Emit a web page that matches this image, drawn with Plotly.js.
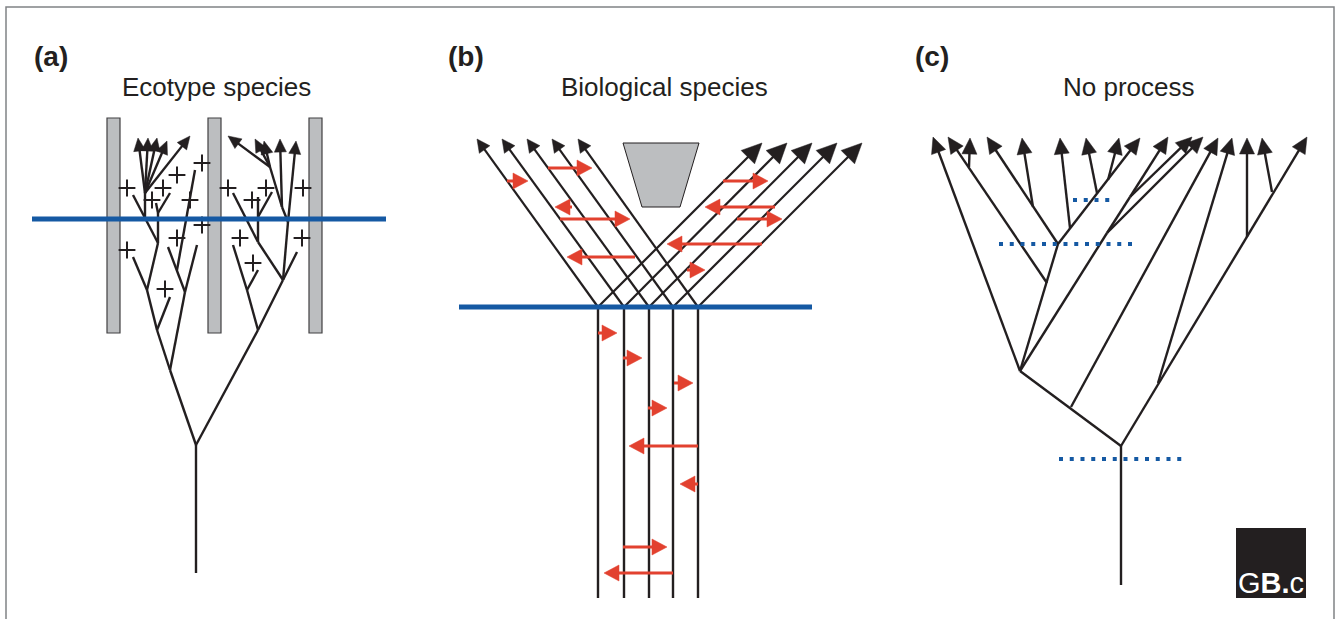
<!DOCTYPE html>
<html><head><meta charset="utf-8">
<script src="https://cdn.plot.ly/plotly-3.0.1.min.js"></script>
<style>html,body{margin:0;padding:0;background:#fff;}#chart{width:1336px;height:619px;}</style>
</head><body><div id="chart"></div>
<script>
// ---------------- data (diagram coordinates) ----------------
const panelLabels = ['(a)', '(b)', '(c)'];
const panelLabelX = [51, 466, 932];
const panelTitles = ['Ecotype species', 'Biological species', 'No process'];
const panelTitleX = [216, 664, 1129];

// panel (a): ecotype species
const barsA = [[107, 118, 120, 333], [208, 118, 221, 333], [309, 118, 322, 333]];
const blueA = [[32, 386, 219]];
const treeA_lines = [
  [196,573,196,445],[196,445,170,370],[196,445,258,330],
  [170,370,157,330],[157,330,147,290],[147,290,133,257],[147,290,158,243],[157,330,170,297],
  [170,370,185,292],[185,292,168,247],[185,292,197,245],[177,270,195,170],
  [158,243,145,218],[158,243,158,213],[158,213,156,203],[158,213,170,193],
  [145,218,133,195],[145,218,145,193],
  [258,330,247,290],[247,290,233,245],[247,290,258,270],[258,330,283,280],[283,280,297,252],
  [283,280,258,242],[258,242,233,193],[258,242,258,197],[258,217,272,192],
  [283,280,288,222],[288,222,282,207],[282,207,270,167]
];
const treeA_arrows = [
  [145,193,138,138],[145,193,148,138],[145,193,157,138],[145,193,167,141],[145,193,190,136],
  [270,167,228,136],[270,167,255,139],[270,167,264,141],[282,207,280,139],[288,222,296,141]
];
const plusA_x = [127,163,152,177,202,190,202,177,127,165,228,266,252,303,240,302,253];
const plusA_y = [188,188,200,175,163,200,225,238,250,289,188,188,200,188,238,238,263];

// panel (b): biological species
const blueB = [[459, 812, 307]];
const lineageBaseX = [598, 624, 649, 673, 698];
const lineageBaseY = 307;
const lineageBottomY = 598;
const leftTipX = [477, 502, 527, 552, 578];
const leftTipY = 139;
const rightTipX = [762, 787, 812, 837, 862];
const rightTipY = 143;
const barrierX = [623, 699, 680, 642];
const barrierY = [143, 143, 207, 207];
// gene-flow arrows: [from x, to x, y]
const geneFlowUpper = [[507,528,181],[548,592,168],[572,555,207],[560,630,219],[635,567,257],
                       [723,768,181],[775,705,207],[737,782,219],[762,667,244],[687,705,270]];
const geneFlowLower = [[598,617,333],[623,642,358],[674,693,383],[648,667,408],[698,629,446],
                       [698,680,484],[623,667,547],[673,604,573]];

// panel (c): no process
const treeC_lines = [
  [1121,585,1121,446],[1121,446,1020,371],[1020,371,1058,244],[1020,371,1107,233],[1107,233,1130,197]
];
const treeC_arrows = [
  [1020,371,933,137],[1047,283,948,137],[969,167,970,138],[1058,244,987,137],[1033,207,1022,138],
  [1070,228,1060,138],[1097,193,1086,138],[1108,180,1119,138],[1058,244,1140,138],
  [1130,197,1168,137],[1130,197,1192,137],[1107,233,1203,137],[1071,407,1218,138],
  [1158,383,1232,138],[1247,237,1247,138],[1272,192,1262,138],[1121,446,1307,137]
];
const dottedC = [[1073,1110,200],[999,1133,244],[1059,1183,459]];

const logoBox = [1236, 528, 1306, 598];
const logoText = 'G<b>B.</b>c';

// ---------------- styles ----------------
const INK = '#231f20', BLUE = '#1559a3', RED = '#e2412f', GREY = '#bcbec0';

// ---------------- builders ----------------
function segTrace(segs, color, width, dash) {
  const x = [], y = [];
  segs.forEach(s => { x.push(s[0], s[2], null); y.push(s[1], s[3], null); });
  return {type:'scatter', mode:'lines', x, y, hoverinfo:'skip',
          line:{color, width, dash: dash || 'solid'}};
}
function arrowTraces(arrows, color, width, L, W) {
  const shafts = [], hx = [], hy = [];
  arrows.forEach(a => {
    const dx = a[2]-a[0], dy = a[3]-a[1];
    const len = Math.hypot(dx, dy), ux = dx/len, uy = dy/len;
    const bx = a[2]-ux*L, by = a[3]-uy*L;
    shafts.push([a[0], a[1], a[2]-ux*L*0.6, a[3]-uy*L*0.6]);
    hx.push(a[2], bx - uy*W, bx + uy*W, a[2], null);
    hy.push(a[3], by + ux*W, by - ux*W, a[3], null);
  });
  return [segTrace(shafts, color, width),
          {type:'scatter', mode:'lines', x:hx, y:hy, fill:'toself', fillcolor:color,
           line:{color, width:0.5}, hoverinfo:'skip'}];
}

const traces = [];
// barrier (trapezoid)
traces.push({type:'scatter', mode:'lines', x: barrierX.concat([barrierX[0]]), y: barrierY.concat([barrierY[0]]),
  fill:'toself', fillcolor:GREY, line:{color:INK, width:1}, hoverinfo:'skip'});

// panel a tree
traces.push(segTrace(treeA_lines, INK, 2.4));
traces.push(...arrowTraces(treeA_arrows, INK, 2.4, 13, 6));
traces.push({type:'scatter', mode:'markers', x: plusA_x, y: plusA_y, hoverinfo:'skip',
  marker:{symbol:'cross-thin', size:12, color:INK, line:{color:INK, width:2}}});

// panel b lineages
const bVert = lineageBaseX.map(x => [x, lineageBaseY, x, lineageBottomY]);
traces.push(segTrace(bVert, INK, 2.4));
traces.push(...arrowTraces(lineageBaseX.map((x,i) => [x, lineageBaseY, leftTipX[i], leftTipY]), INK, 2.2, 13, 6.5));
traces.push(...arrowTraces(lineageBaseX.map((x,i) => [x, lineageBaseY, rightTipX[i], rightTipY]), INK, 2.2, 20, 9.5));
traces.push(...arrowTraces(geneFlowUpper.concat(geneFlowLower).map(g => [g[0], g[2], g[1], g[2]]), RED, 3, 15, 8));

// panel c tree
traces.push(segTrace(treeC_lines, INK, 2.4));
traces.push(...arrowTraces(treeC_arrows, INK, 2.4, 16, 7.5));

// blue lines
traces.push(segTrace(blueA.concat(blueB).map(b => [b[0], b[2], b[1], b[2]]), BLUE, 5));
traces.push(segTrace(dottedC.map(b => [b[0], b[2], b[1], b[2]]), BLUE, 4, '4px,6.75px'));

// shapes
const shapes = barsA.map(b => ({type:'rect', xref:'x', yref:'y', x0:b[0], y0:b[1], x1:b[2], y1:b[3],
  fillcolor:GREY, line:{color:'#414042', width:1.2}, layer:'below'}));
shapes.push({type:'rect', xref:'x', yref:'y', x0:6, y0:7, x1:1334, y1:640,
  line:{color:'#808285', width:1.5}, fillcolor:'rgba(0,0,0,0)', layer:'above'});
shapes.push({type:'rect', xref:'x', yref:'y', x0:logoBox[0], y0:logoBox[1], x1:logoBox[2], y1:logoBox[3],
  fillcolor:INK, line:{width:0}, layer:'above'});

const annotations = [];
panelLabels.forEach((t,i) => annotations.push({xref:'x', yref:'y', x:panelLabelX[i], y:56, text:'<b>'+t+'</b>',
  showarrow:false, xanchor:'center', yanchor:'middle',
  font:{family:'Liberation Sans, Arial, sans-serif', size:28, color:INK}}));
panelTitles.forEach((t,i) => annotations.push({xref:'x', yref:'y', x:panelTitleX[i], y:87, text:t,
  showarrow:false, xanchor:'center', yanchor:'middle',
  font:{family:'Liberation Sans, Arial, sans-serif', size:26, color:INK}}));
annotations.push({xref:'x', yref:'y', x:(logoBox[0]+logoBox[2])/2, y:583, text:logoText, showarrow:false,
  xanchor:'center', yanchor:'middle', font:{family:'Liberation Sans, Arial, sans-serif', size:29, color:'#ffffff'}});

const layout = {
  width:1336, height:619, margin:{l:0, r:0, t:0, b:0},
  paper_bgcolor:'#ffffff', plot_bgcolor:'#ffffff', showlegend:false,
  xaxis:{range:[0,1336], visible:false, fixedrange:true},
  yaxis:{range:[619,0], visible:false, fixedrange:true},
  shapes, annotations
};
Plotly.newPlot('chart', traces, layout, {staticPlot:true, displayModeBar:false});
</script></body></html>
